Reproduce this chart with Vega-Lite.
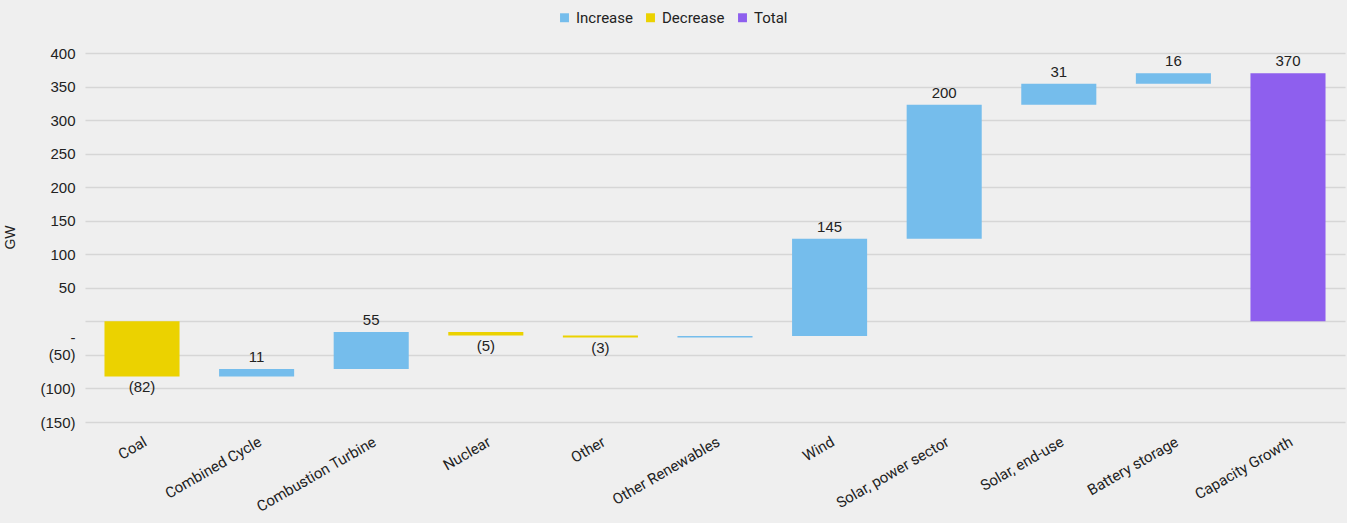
{
  "$schema": "https://vega.github.io/schema/vega-lite/v6.json",
  "autosize": "none",
  "width": 1260,
  "height": 369,
  "padding": {"left": 85, "top": 53, "right": 2, "bottom": 101},
  "background": "#efefef",
  "config": {
    "view": {"stroke": null},
    "font": "Liberation Sans"
  },
  "data": {
    "values": [
      {"category": "Coal", "start": 0, "end": -82, "type": "Decrease", "label": "(82)"},
      {"category": "Combined Cycle", "start": -82, "end": -71, "type": "Increase", "label": "11"},
      {"category": "Combustion Turbine", "start": -71, "end": -16, "type": "Increase", "label": "55"},
      {"category": "Nuclear", "start": -16, "end": -21, "type": "Decrease", "label": "(5)"},
      {"category": "Other", "start": -21, "end": -24, "type": "Decrease", "label": "(3)"},
      {"category": "Other Renewables", "start": -24, "end": -22, "type": "Increase", "label": ""},
      {"category": "Wind", "start": -22, "end": 123, "type": "Increase", "label": "145"},
      {"category": "Solar, power sector", "start": 123, "end": 323, "type": "Increase", "label": "200"},
      {"category": "Solar, end-use", "start": 323, "end": 354, "type": "Increase", "label": "31"},
      {"category": "Battery storage", "start": 354, "end": 370, "type": "Increase", "label": "16"},
      {"category": "Capacity Growth", "start": 0, "end": 370, "type": "Total", "label": "370"}
    ]
  },
  "encoding": {
    "x": {
      "field": "category",
      "type": "nominal",
      "sort": null,
      "scale": {"paddingInner": 0.345, "paddingOuter": 0.17},
      "axis": {
        "title": null,
        "labelAngle": -30,
        "labelFont": "Roboto",
        "labelFontSize": 15,
        "labelColor": "#222222",
        "labelOverlap": false,
        "ticks": false,
        "domain": false,
        "labelPadding": 12
      }
    }
  },
  "layer": [
    {
      "mark": {"type": "bar"},
      "encoding": {
        "y": {
          "field": "start",
          "type": "quantitative",
          "scale": {"domain": [-150, 400], "nice": false},
          "axis": {
            "title": "GW",
            "titleFont": "Liberation Sans",
            "titleFontSize": 14,
            "titleFontWeight": "normal",
            "titleColor": "#222222",
            "titleX": -68,
            "titleY": 184,
            "values": [-150, -100, -50, 0, 50, 100, 150, 200, 250, 300, 350, 400],
            "tickCount": 12,
            "labelExpr": "datum.value == 0 ? '-' : (datum.value < 0 ? '(' + abs(datum.value) + ')' : datum.value)",
            "labelFontSize": 15,
            "labelColor": "#222222",
            "labelPadding": 10,
            "labelOverlap": false,
            "labelFlush": false,
            "labelOffset": {"condition": {"test": "datum.value == 0", "value": 16}, "value": 0},
            "ticks": false,
            "domain": false,
            "gridColor": "#d6d6d6",
            "gridWidth": 1.5
          }
        },
        "y2": {"field": "end"},
        "color": {
          "field": "type",
          "type": "nominal",
          "scale": {"domain": ["Increase", "Decrease", "Total"], "range": ["#75bdec", "#ebd200", "#8e5fee"]},
          "legend": {
            "title": null,
            "orient": "none",
            "legendX": 472,
            "legendY": -43,
            "direction": "horizontal",
            "symbolType": "square",
            "symbolSize": 80,
            "labelFont": "Roboto",
            "labelFontSize": 15,
            "labelColor": "#222222",
            "columnPadding": 10,
            "symbolOffset": 0
          }
        }
      }
    },
    {
      "transform": [{"filter": "datum.type != 'Decrease'"}],
      "mark": {"type": "text", "baseline": "bottom", "dy": -4, "fontSize": 15, "color": "#222222"},
      "encoding": {
        "y": {"field": "end", "type": "quantitative"},
        "text": {"field": "label"}
      }
    },
    {
      "transform": [{"filter": "datum.type == 'Decrease'"}],
      "mark": {"type": "text", "baseline": "top", "dy": 4, "fontSize": 15, "color": "#222222"},
      "encoding": {
        "y": {"field": "end", "type": "quantitative"},
        "text": {"field": "label"}
      }
    }
  ]
}
